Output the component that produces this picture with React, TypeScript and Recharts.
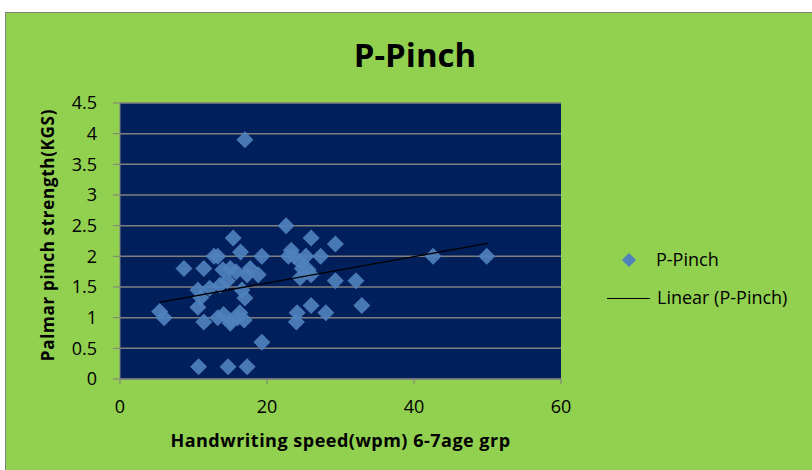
import React from 'react'
import { ScatterChart, Scatter, XAxis, YAxis, CartesianGrid } from 'recharts'

// handwriting speed (wpm) of each child
const speedValues = [
  17, 22.6, 15.4, 26, 29.3, 16.4, 12.8, 13.3, 19.3, 23.3, 23.7, 27.3, 42.6, 49.9,
  8.7, 11.4, 14, 17.7, 18.8, 15.8, 15, 24.8, 25.6, 24.5, 26, 29.3, 32.1, 13.6,
  17.3, 16.6, 12.2, 11, 10.6, 17, 5.4, 6, 10.6, 11.4, 13.3, 14.1, 15.1, 16, 16.3,
  16.9, 15, 24.1, 24, 26, 28, 32.9, 19.3, 10.7, 14.7, 17.3,
  22.9, 24.6, 25.3, 14.6
]

// palmar pinch strength (kgs), same order
const pinchValues = [
  3.9, 2.5, 2.3, 2.3, 2.2, 2.07, 2.0, 2.0, 2.0, 2.1, 2.0, 2.0, 2.0, 2.0,
  1.8, 1.8, 1.78, 1.8, 1.7, 1.75, 1.8, 1.8, 1.78, 1.65, 1.7, 1.6, 1.6, 1.53,
  1.7, 1.45, 1.48, 1.33, 1.45, 1.32, 1.1, 1.0, 1.17, 0.93, 1.0, 1.05, 0.95, 1.0, 1.08,
  0.96, 0.91, 1.08, 0.93, 1.2, 1.08, 1.2, 0.6, 0.2, 0.2, 0.2,
  2.0, 1.9, 2.0, 1.6
]

// ends of the linear trend line
const trendX = [5.35, 50]
const trendY = [1.25, 2.21]

const xTicks = [0, 20, 40, 60]
const yTicks = [0, 0.5, 1, 1.5, 2, 2.5, 3, 3.5, 4, 4.5]

const points = speedValues.map((x, i) => ({ x, y: pinchValues[i] }))
const trend = trendX.map((x, i) => ({ x, y: trendY[i] }))

const FONT = '"Open Sans", sans-serif'
const POINT = '#4F81BD'

// square diamond like the excel marker
const Diamond = (props: any) => {
  const { cx, cy } = props
  const r = 8.5
  return (
    <polygon
      points={`${cx},${cy - r} ${cx + r},${cy} ${cx},${cy + r} ${cx - r},${cy}`}
      fill={POINT}
      fillOpacity={0.92}
    />
  )
}

export default function App() {
  return (
    <div style={{ position: 'absolute', left: 0, top: 0, width: 812, height: 470, background: '#fff', overflow: 'hidden', fontFamily: FONT }}>
      <div style={{ position: 'absolute', left: 5, top: 12, width: 830, height: 480, background: '#92D050', border: '1px solid #808080' }} />
      <div style={{ position: 'absolute', left: 0, top: 0 }}>
        <ScatterChart width={812} height={470} margin={{ top: 103, right: 251, bottom: 31, left: 20 }}>
          <CartesianGrid vertical={false} stroke="#7f7f7f" strokeWidth={1.5} fill="#001F5B" fillOpacity={1} />
          <XAxis
            type="number"
            dataKey="x"
            domain={[0, 60]}
            ticks={xTicks}
            height={60}
            stroke="#7f7f7f"
            tickSize={5}
            tickMargin={16}
            tick={{ fill: '#000', fontSize: 18, fontFamily: FONT }}
          />
          <YAxis
            type="number"
            dataKey="y"
            domain={[0, 4.5]}
            ticks={yTicks}
            width={100}
            stroke="#7f7f7f"
            tickSize={7}
            tickMargin={16}
            tick={{ fill: '#000', fontSize: 18, fontFamily: FONT }}
          />
          <Scatter data={points} shape={Diamond} isAnimationActive={false} />
          <Scatter
            data={trend}
            line={{ stroke: '#000', strokeWidth: 1.3 }}
            lineType="joint"
            shape={() => <g />}
            isAnimationActive={false}
          />
        </ScatterChart>
      </div>
      <div style={{ position: 'absolute', left: 0, width: 830, top: 33, textAlign: 'center', fontSize: 33, fontWeight: 700, lineHeight: '44px' }}>
        P-Pinch
      </div>
      <div style={{ position: 'absolute', left: 120, width: 441, top: 428, textAlign: 'center', fontSize: 18, fontWeight: 700, lineHeight: '24px', letterSpacing: 0.5 }}>
        Handwriting speed(wpm) 6-7age grp
      </div>
      <div
        style={{
          position: 'absolute', left: 48 - 150, top: 235 - 12, width: 300, textAlign: 'center',
          fontSize: 17, fontWeight: 700, lineHeight: '24px', letterSpacing: 0.7, transform: 'rotate(-90deg)'
        }}
      >
        Palmar pinch strength(KGS)
      </div>
      <div style={{ position: 'absolute', left: 624, top: 255, width: 10, height: 10, background: POINT, transform: 'rotate(45deg)' }} />
      <div style={{ position: 'absolute', left: 656, top: 247, fontSize: 18, lineHeight: '24px' }}>P-Pinch</div>
      <div style={{ position: 'absolute', left: 607, top: 298, width: 43, height: 1, background: '#000' }} />
      <div style={{ position: 'absolute', left: 657, top: 285, fontSize: 18, lineHeight: '24px' }}>Linear (P-Pinch)</div>
    </div>
  )
}
